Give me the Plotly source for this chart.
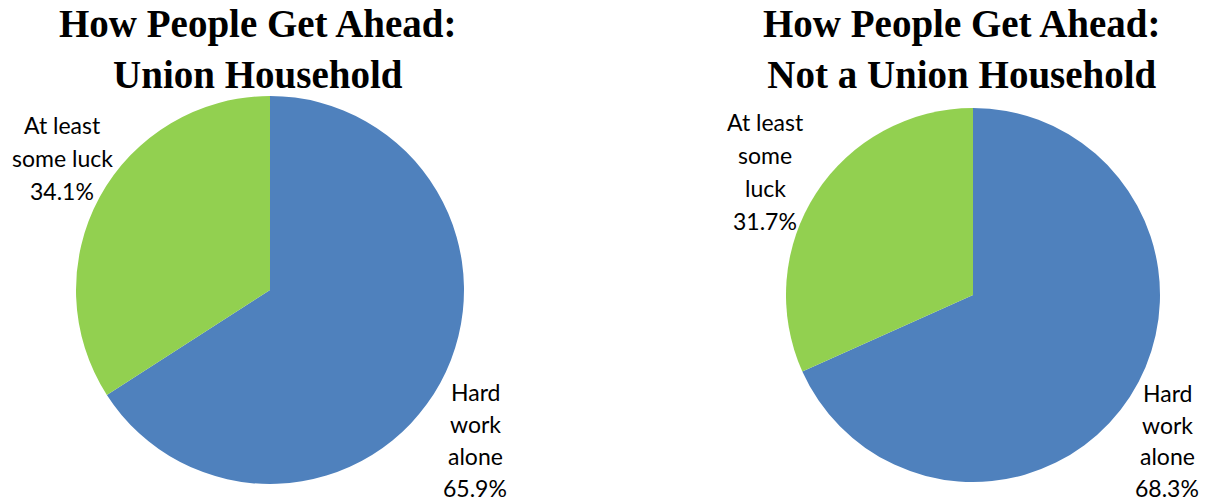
import plotly.graph_objects as go

# Survey shares: how people get ahead, by household union membership
categories = ["Hard work alone", "At least some luck"]
union_values = [65.9, 34.1]
nonunion_values = [68.3, 31.7]
titles = ["<b>How People Get Ahead:<br>Union Household</b>",
          "<b>How People Get Ahead:<br>Not a Union Household</b>"]
# wrapped label lines for each pie
union_label_lines = [["Hard", "work", "alone"], ["At least", "some luck"]]
nonunion_label_lines = [["Hard", "work", "alone"], ["At least", "some", "luck"]]

colors = ["#4F81BD", "#92D050"]
W, H = 1211, 503


def px_x(x):
    return x / W


def px_y(y):
    return 1 - y / H


fig = go.Figure()

pies = [
    # (values, center x, center y, radius)
    (union_values, 270, 290, 194),
    (nonunion_values, 973, 295, 187),
]
for vals, cx, cy, r in pies:
    fig.add_trace(go.Pie(
        labels=categories,
        values=vals,
        sort=False,
        direction="clockwise",
        rotation=0,
        marker=dict(colors=colors, line=dict(width=0)),
        textinfo="none",
        hoverinfo="label+percent",
        showlegend=False,
        domain=dict(x=[px_x(cx - r), px_x(cx + r)],
                    y=[px_y(cy + r), px_y(cy - r)]),
    ))

annotations = []
# chart titles
for text, cx in zip(titles, [258, 962]):
    annotations.append(dict(
        text=text, x=px_x(cx), y=px_y(0), xref="paper", yref="paper",
        xanchor="center", yanchor="top", showarrow=False,
        font=dict(family="Liberation Serif", size=39, color="#000000"),
    ))

label_font = dict(family="Lato", size=23, color="#000000")
# (label lines, value, center x, first line y, line step)
label_specs = [
    (union_label_lines[0], union_values[0], 475, 392, 32),
    (union_label_lines[1], union_values[1], 62, 125, 33),
    (nonunion_label_lines[0], nonunion_values[0], 1167, 393, 31.5),
    (nonunion_label_lines[1], nonunion_values[1], 765, 122, 33),
]
for lines, val, cx, y0, step in label_specs:
    all_lines = lines + [f"{val:.1f}%"]
    for i, ln in enumerate(all_lines):
        annotations.append(dict(
            text=ln, x=px_x(cx), y=px_y(y0 + i * step),
            xref="paper", yref="paper", xanchor="center", yanchor="middle",
            showarrow=False, font=label_font,
        ))

fig.update_layout(
    width=W, height=H,
    margin=dict(l=0, r=0, t=0, b=0),
    paper_bgcolor="#FFFFFF",
    plot_bgcolor="#FFFFFF",
    annotations=annotations,
)

fig.write_html("out.html")
